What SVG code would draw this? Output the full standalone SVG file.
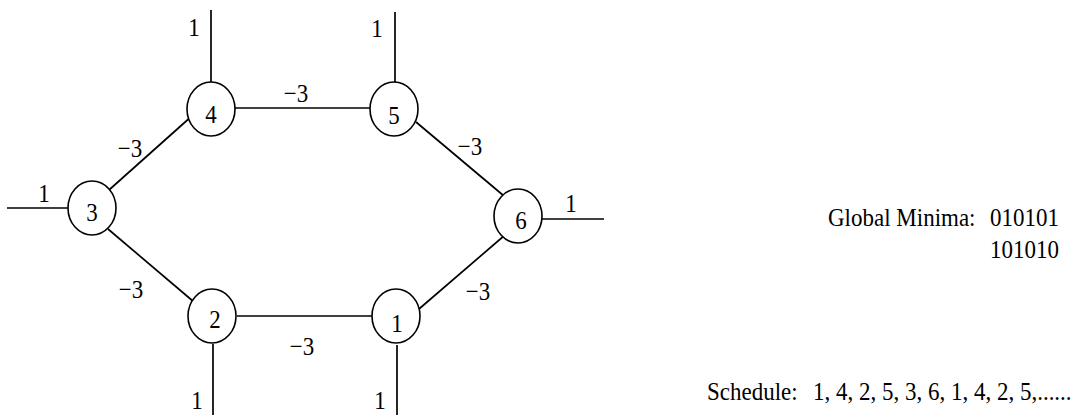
<svg xmlns="http://www.w3.org/2000/svg" width="1079" height="415" viewBox="0 0 1079 415">
<style>
.n{fill:#fff;stroke:#000;stroke-width:1.6}
.e{stroke:#000;stroke-width:1.7;fill:none}
text{font-family:"Liberation Serif","Times New Roman",serif;font-size:23px;fill:#000}
.m{text-anchor:middle}
</style>
<rect width="1079" height="415" fill="#fff"/>
<g id="connectors">
<line class="e" x1="211" y1="10" x2="211" y2="82"/>
<line class="e" x1="395" y1="12" x2="395" y2="82"/>
<line class="e" x1="235" y1="108" x2="370" y2="108"/>
<line class="e" x1="7" y1="208" x2="68" y2="208"/>
<line class="e" x1="109" y1="190" x2="193" y2="115"/>
<line class="e" x1="416" y1="122" x2="504" y2="196"/>
<line class="e" x1="542" y1="219" x2="604" y2="219"/>
<line class="e" x1="108" y1="229" x2="194" y2="302"/>
<line class="e" x1="237" y1="316" x2="372" y2="316"/>
<line class="e" x1="419" y1="309" x2="505" y2="235"/>
<line class="e" x1="213" y1="344" x2="213" y2="415"/>
<line class="e" x1="397" y1="345" x2="397" y2="415"/>
<text class="m" transform="translate(194,36) scale(1,1.12)">1</text>
<text class="m" transform="translate(377,37) scale(1,1.12)">1</text>
<text class="m" transform="translate(296,102) scale(1,1.12)">−3</text>
<text class="m" transform="translate(130,157) scale(1,1.12)">−3</text>
<text class="m" transform="translate(470,155) scale(1,1.12)">−3</text>
<text class="m" transform="translate(44,202) scale(1,1.12)">1</text>
<text class="m" transform="translate(571,212) scale(1,1.12)">1</text>
<text class="m" transform="translate(131,298) scale(1,1.12)">−3</text>
<text class="m" transform="translate(302,355) scale(1,1.12)">−3</text>
<text class="m" transform="translate(478,300) scale(1,1.12)">−3</text>
<text class="m" transform="translate(197,409) scale(1,1.12)">1</text>
<text class="m" transform="translate(380,409) scale(1,1.12)">1</text>
</g>
<g id="node4"><ellipse class="n" cx="211" cy="109" rx="24" ry="27"/><text class="m" transform="translate(211,123) scale(1,1.12)">4</text></g>
<g id="node5"><ellipse class="n" cx="394" cy="109" rx="24" ry="27"/><text class="m" transform="translate(394,124) scale(1,1.12)">5</text></g>
<g id="node3"><ellipse class="n" cx="92" cy="208" rx="24" ry="27"/><text class="m" transform="translate(92,221) scale(1,1.12)">3</text></g>
<g id="node6"><ellipse class="n" cx="518" cy="216" rx="24" ry="27"/><text class="m" transform="translate(521,229) scale(1,1.12)">6</text></g>
<g id="node2"><ellipse class="n" cx="212" cy="316" rx="24" ry="27"/><text class="m" transform="translate(215,328) scale(1,1.12)">2</text></g>
<g id="node1"><ellipse class="n" cx="396" cy="316" rx="24" ry="27"/><text class="m" transform="translate(397,332) scale(1,1.12)">1</text></g>
<g id="notes">
<text transform="translate(828,226) scale(1,1.12)">Global Minima:</text>
<text transform="translate(990,226) scale(1,1.12)">010101</text>
<text transform="translate(990,258) scale(1,1.12)">101010</text>
<text transform="translate(707,400) scale(1,1.12)">Schedule:</text>
<text transform="translate(813,400) scale(1,1.12)">1, 4, 2, 5, 3, 6, 1, 4, 2, 5,......</text>
</g>
</svg>
